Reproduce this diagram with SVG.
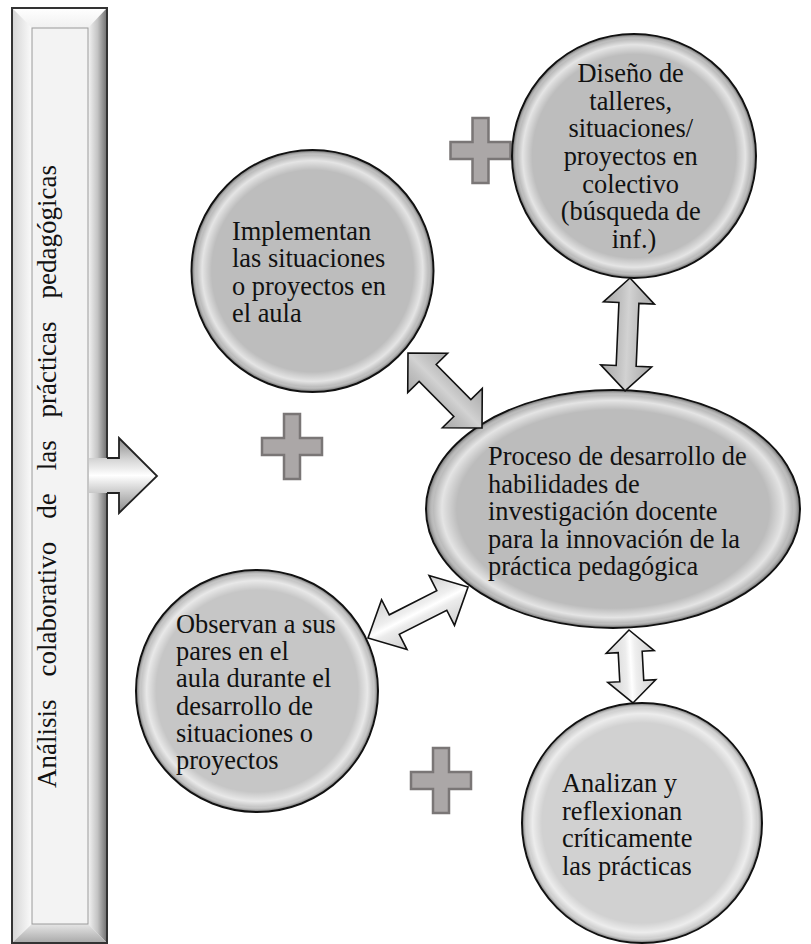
<svg xmlns="http://www.w3.org/2000/svg" width="811" height="944" viewBox="0 0 811 944">
  <style>
    text { font-family: 'Liberation Serif', serif; }
    .lbl { font-size: 26.4px; fill: #111; }
    .side { font-size: 27px; fill: #111; }
    .node { stroke: #111; stroke-width: 2; }
    .rim { fill: url(#rim); stroke: none; }
    .plus { fill: #aba7a7; stroke: #7a7676; stroke-width: 2.5; }
    .arrDark { fill: url(#gDark); stroke: #111; stroke-width: 1.6; stroke-linejoin: miter; }
    .arrLight { fill: url(#gLight); stroke: #111; stroke-width: 1.6; stroke-linejoin: miter; }
  </style>
  <defs>
    <radialGradient id="rim" cx="0.5" cy="0.5" r="0.5">
      <stop offset="0" stop-color="#fff" stop-opacity="0"/>
      <stop offset="0.84" stop-color="#fff" stop-opacity="0"/>
      <stop offset="0.92" stop-color="#fff" stop-opacity="0.6"/>
      <stop offset="0.965" stop-color="#fff" stop-opacity="0"/>
      <stop offset="1" stop-color="#000" stop-opacity="0.35"/>
    </radialGradient>
    <linearGradient id="gDark" x1="0" y1="0" x2="0" y2="1">
      <stop offset="0" stop-color="#a8a8a8"/>
      <stop offset="0.35" stop-color="#c4c4c4"/>
      <stop offset="0.5" stop-color="#d2d2d2"/>
      <stop offset="0.65" stop-color="#c2c2c2"/>
      <stop offset="1" stop-color="#a8a8a8"/>
    </linearGradient>
    <linearGradient id="gLight" x1="0" y1="0" x2="0" y2="1">
      <stop offset="0" stop-color="#cfcfcf"/>
      <stop offset="0.4" stop-color="#efefef"/>
      <stop offset="0.5" stop-color="#ffffff"/>
      <stop offset="0.6" stop-color="#ececec"/>
      <stop offset="1" stop-color="#cfcfcf"/>
    </linearGradient>
    <linearGradient id="barArrow" x1="0" y1="0" x2="0" y2="1">
      <stop offset="0" stop-color="#8a8a8a"/>
      <stop offset="0.3" stop-color="#d8d8d8"/>
      <stop offset="0.5" stop-color="#ffffff"/>
      <stop offset="0.7" stop-color="#d0d0d0"/>
      <stop offset="1" stop-color="#8a8a8a"/>
    </linearGradient>
    <linearGradient id="bevL" x1="0" y1="0" x2="1" y2="0">
      <stop offset="0" stop-color="#d4d4d4"/>
      <stop offset="1" stop-color="#fbfbfb"/>
    </linearGradient>
    <linearGradient id="bevR" x1="0" y1="0" x2="1" y2="0">
      <stop offset="0" stop-color="#f4f4f4"/>
      <stop offset="0.5" stop-color="#c4c4c4"/>
      <stop offset="1" stop-color="#6e6e6e"/>
    </linearGradient>
    <linearGradient id="bevT" x1="0" y1="0" x2="0" y2="1">
      <stop offset="0" stop-color="#ffffff"/>
      <stop offset="1" stop-color="#f0f0f0"/>
    </linearGradient>
    <linearGradient id="bevB" x1="0" y1="0" x2="0" y2="1">
      <stop offset="0" stop-color="#e6e6e6"/>
      <stop offset="1" stop-color="#a8a8a8"/>
    </linearGradient>
    <path id="plusShape" d="M-8,-32.5 H8 V-8.5 H30 V8.5 H8 V32.5 H-8 V8.5 H-30 V-8.5 H-8 Z"/>
  </defs>

  <rect width="811" height="944" fill="#ffffff"/>

  <!-- Left vertical bar -->
  <g id="node-bar">
    <rect x="12" y="8" width="95" height="935" fill="#f2f2f2"/>
    <polygon points="12,8 107,8 88,28 32,28" fill="url(#bevT)"/>
    <polygon points="12,8 32,28 32,924 12,943" fill="url(#bevL)"/>
    <polygon points="107,8 107,943 88,924 88,28" fill="url(#bevR)"/>
    <polygon points="12,943 107,943 88,924 32,924" fill="url(#bevB)"/>
    <rect x="32" y="28" width="56" height="896" fill="#f3f3f3" stroke="#9a9a9a" stroke-width="1"/>
    <rect x="12" y="8" width="95" height="935" fill="none" stroke="#333" stroke-width="2"/>
    <polygon points="89,458 119,458 119,438 157,476 119,513 119,493 89,493" fill="url(#barArrow)"/>
    <path d="M107,458 H119 V438 L157,476 L119,513 V493 H107" fill="none" stroke="#222" stroke-width="1.8" stroke-linejoin="miter"/>
    <g transform="rotate(-90)">
      <text class="side" x="-788" y="56">Análisis</text>
      <text class="side" x="-676.6" y="56">colaborativo</text>
      <text class="side" x="-518.7" y="56">de</text>
      <text class="side" x="-470.3" y="56">las</text>
      <text class="side" x="-417.4" y="56">prácticas</text>
      <text class="side" x="-298.5" y="56">pedagógicas</text>
    </g>
  </g>

  <!-- Plus signs -->
  <g id="plus-top"><use href="#plusShape" class="plus" transform="translate(480.5,150.5)"/></g>
  <g id="plus-left"><use href="#plusShape" class="plus" transform="translate(292,446.5)"/></g>
  <g id="plus-bottom"><use href="#plusShape" class="plus" transform="translate(441,780.5)"/></g>

  <!-- Nodes -->
  <g id="node-diseno">
    <circle cx="634" cy="156" r="122" class="node" fill="#bdbdbd"/>
    <circle cx="634" cy="156" r="121" class="rim"/>
    <text class="lbl" text-anchor="middle">
      <tspan x="634" y="82">Diseño de</tspan>
      <tspan x="634" y="109.5">talleres,</tspan>
      <tspan x="634" y="137.3">situaciones/</tspan>
      <tspan x="634" y="165">proyectos en</tspan>
      <tspan x="634" y="192.7">colectivo</tspan>
      <tspan x="634" y="220.3">(búsqueda de</tspan>
      <tspan x="634" y="248">inf.)</tspan>
    </text>
  </g>

  <g id="node-implementan">
    <circle cx="312.5" cy="271" r="121" class="node" fill="#bdbdbd"/>
    <circle cx="312.5" cy="271" r="120" class="rim"/>
    <text class="lbl">
      <tspan x="232" y="240">Implementan</tspan>
      <tspan x="232" y="267.3">las situaciones</tspan>
      <tspan x="232" y="294.6">o proyectos en</tspan>
      <tspan x="232" y="322">el aula</tspan>
    </text>
  </g>

  <g id="node-proceso">
    <ellipse cx="613" cy="509" rx="187" ry="119" class="node" fill="#bcbcbc"/>
    <ellipse cx="613" cy="509" rx="186" ry="118" class="rim"/>
    <text class="lbl">
      <tspan x="488" y="465">Proceso de desarrollo de</tspan>
      <tspan x="488" y="492.5">habilidades de</tspan>
      <tspan x="488" y="520">investigación docente</tspan>
      <tspan x="488" y="547.5">para la innovación de la</tspan>
      <tspan x="488" y="575">práctica pedagógica</tspan>
    </text>
  </g>

  <g id="node-observan">
    <circle cx="257" cy="691" r="121" class="node" fill="#c6c6c6"/>
    <circle cx="257" cy="691" r="120" class="rim"/>
    <text class="lbl">
      <tspan x="176" y="633">Observan a sus</tspan>
      <tspan x="176" y="660.2">pares en el</tspan>
      <tspan x="176" y="687.4">aula durante el</tspan>
      <tspan x="176" y="714.6">desarrollo de</tspan>
      <tspan x="176" y="741.8">situaciones o</tspan>
      <tspan x="176" y="769">proyectos</tspan>
    </text>
  </g>

  <g id="node-analizan">
    <circle cx="642" cy="823" r="120" class="node" fill="#d1d1d1"/>
    <circle cx="642" cy="823" r="119" class="rim"/>
    <text class="lbl">
      <tspan x="562" y="792">Analizan y</tspan>
      <tspan x="562" y="819.6">reflexionan</tspan>
      <tspan x="562" y="847.2">críticamente</tspan>
      <tspan x="562" y="874.8">las prácticas</tspan>
    </text>
  </g>

  <!-- Connectors -->
  <g id="connectors">
    <polygon class="arrDark" transform="translate(630,278) rotate(92.5)"
      points="0,0 25,-25.5 25,-10 88,-10 88,-25.5 113,0 88,25.5 88,10 25,10 25,25.5"/>
    <polygon class="arrDark" transform="translate(408,353) rotate(45.4)"
      points="0,0 28,-28 28,-12 77.4,-12 77.4,-28 105.4,0 77.4,28 77.4,12 28,12 28,28"/>
    <polygon class="arrLight" transform="translate(368,638) rotate(-27)"
      points="0,0 29.5,-28 29.5,-11 82.8,-11 82.8,-28 112.3,0 82.8,28 82.8,11 29.5,11 29.5,28"/>
    <polygon class="arrLight" transform="translate(629,630) rotate(86.9)"
      points="0,0 22,-24 22,-12 51.1,-12 51.1,-24 73.1,0 51.1,24 51.1,12 22,12 22,24"/>
  </g>
</svg>
